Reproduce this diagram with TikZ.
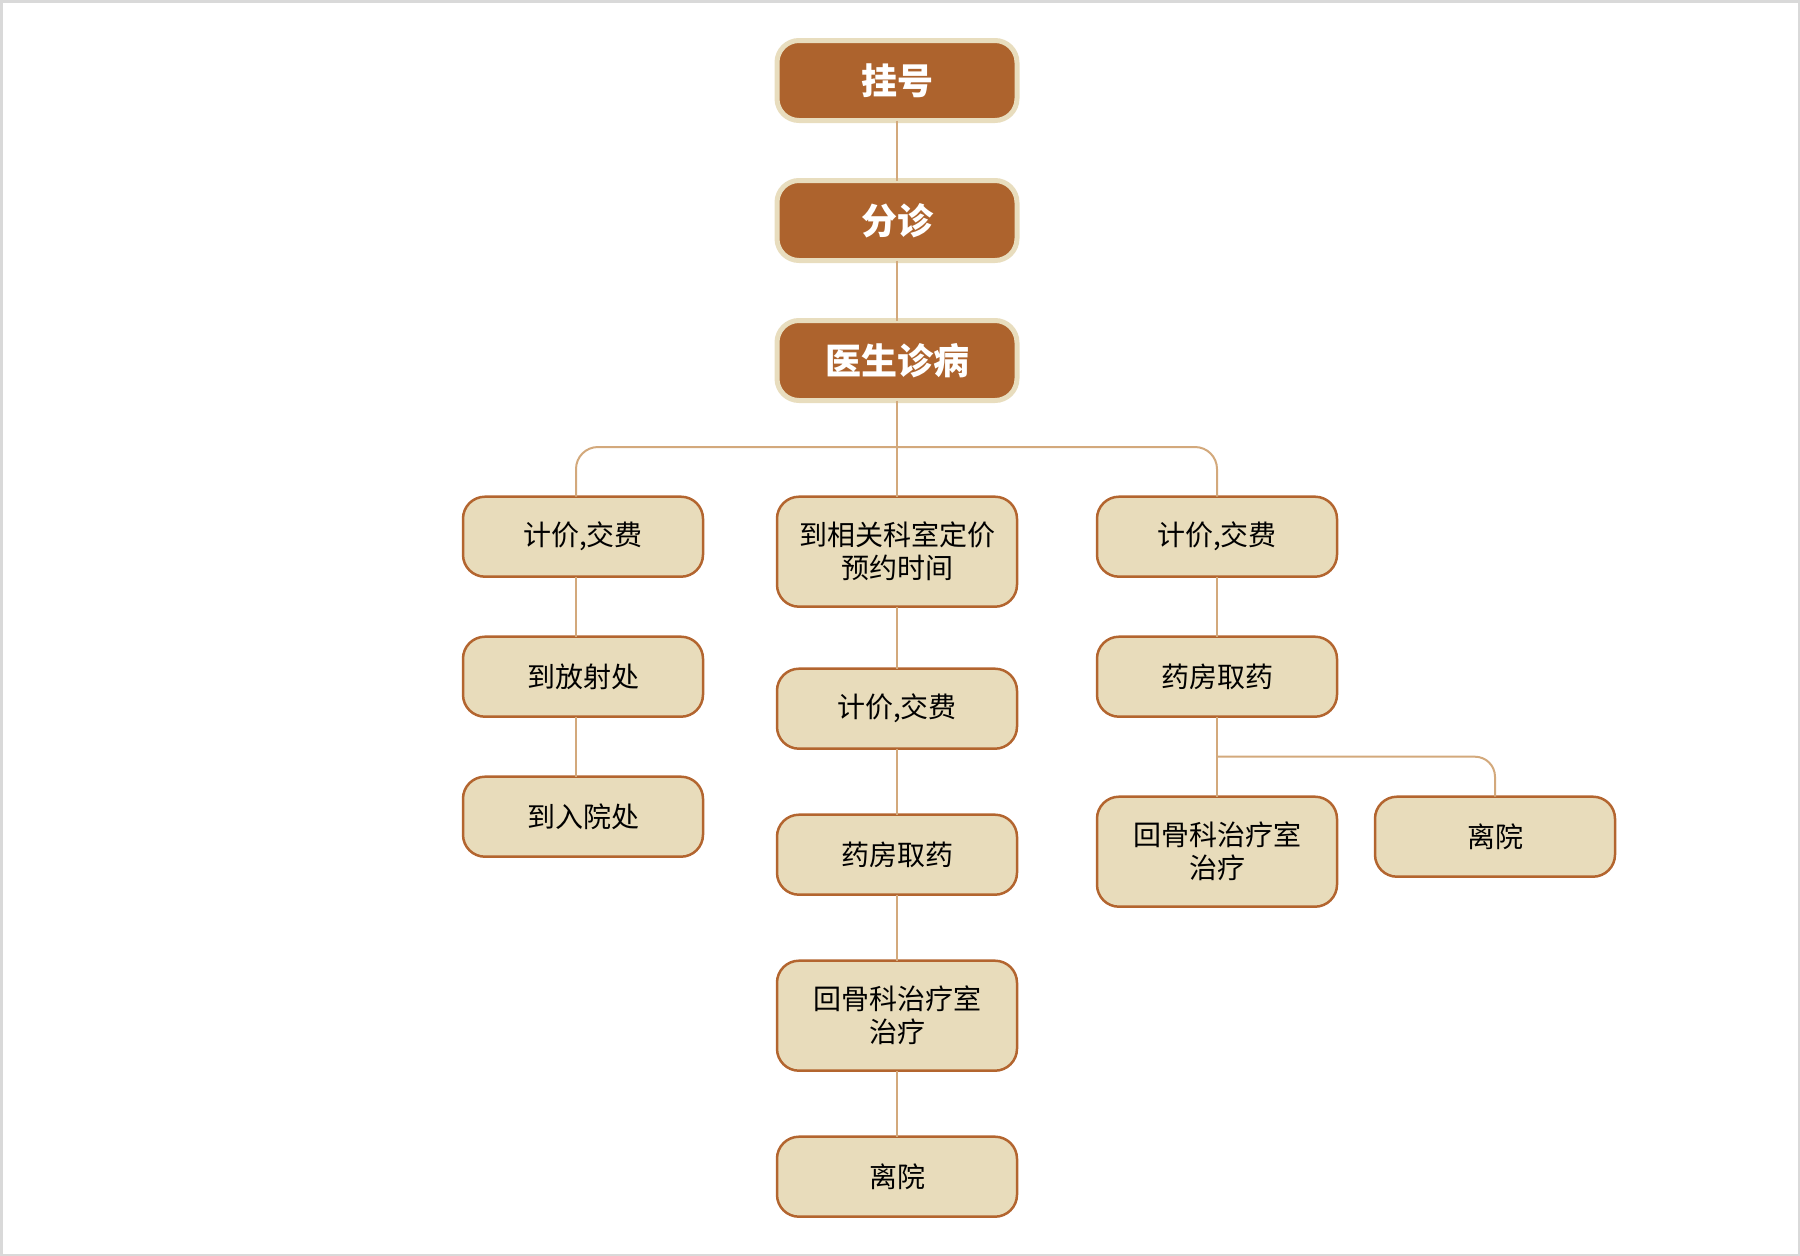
\documentclass[tikz,border=0pt]{standalone}
\usepackage{fontspec}
\setmainfont{Noto Sans CJK SC}
\usepackage{xcolor}
\usepackage{tikz}
\usetikzlibrary{positioning}
\definecolor{brownfill}{HTML}{AD632D}
\definecolor{creamfill}{HTML}{E8DCBB}
\definecolor{creamline}{HTML}{E8DDBE}
\definecolor{boxline}{HTML}{B3652F}
\definecolor{linkline}{HTML}{D3A97C}
\definecolor{frameline}{HTML}{D9D9D9}
\tikzset{every picture/.style={font issue=\fontsize{28}{33}},
         font issue/.style={execute at begin picture={#1\selectfont}}
        }

\begin{document}
\begin{tikzpicture}[x=1pt, y=1pt, node distance = 60pt,
  topbox/.style={draw=creamline, line width=5pt, fill=brownfill, text=white,
    rounded corners=22pt, minimum width=240pt, minimum height=80pt, outer sep=0pt,
    font=\fontsize{36}{40}\selectfont\bfseries},
  box/.style={draw=boxline, line width=2.5pt, fill=creamfill, text=black,
    rounded corners=22pt, minimum width=240pt, minimum height=80pt, outer sep=0pt,
    align=center},
  tallbox/.style={box, minimum height=110pt},
  link/.style={draw=linkline, line width=2pt}]
\useasboundingbox (0,0) rectangle (1800,-1256);
\draw[frameline, line width=2.5pt] (1.25,-1.25) rectangle (1798.75,-1254.75);

\node[topbox] (guahao) at (897,-80.5) {挂号};
\node[topbox, below = of guahao] (fenzhen) {分诊};
\node[topbox, below = of fenzhen] (zhenbing) {医生诊病};
\coordinate (bus) at (897,-447);

% left column
\node[box, anchor=north] (jiaofeiL) at (583,-496.7) {计价,交费};
\node[box, below = of jiaofeiL] (fangshe) {到放射处};
\node[box, below = of fangshe] (ruyuan) {到入院处};

% middle column
\node[tallbox, anchor=north] (yuyue) at (897,-496.7) {到相关科室定价\\预约时间};
\node[box, below = 62pt of yuyue] (jiaofeiM) {计价,交费};
\node[box, below = 66pt of jiaofeiM] (quyaoM) {药房取药};
\node[tallbox, below = 66pt of quyaoM] (zhiliaoM) {回骨科治疗室\\治疗};
\node[box, below = 66pt of zhiliaoM] (liyuanM) {离院};

% right column
\node[box, anchor=north] (jiaofeiR) at (1217,-496.7) {计价,交费};
\node[box, below = of jiaofeiR] (quyaoR) {药房取药};
\node[tallbox, below = 80pt of quyaoR] (zhiliaoR) {回骨科治疗室\\治疗};
\node[box, anchor=north west] (liyuanR) at ([xshift=38pt]zhiliaoR.north east) {离院};
\coordinate (fork) at (1217,-756.7);

\draw[link] (guahao) -- (fenzhen);
\draw[link] (fenzhen) -- (zhenbing);
\draw[link] (zhenbing) -- (yuyue);
\draw[link, rounded corners=22pt] ([xshift=-7pt]jiaofeiL.north) |- (bus) -| (jiaofeiR.north);
\draw[link] ([xshift=-7pt]jiaofeiL.south) -- ([xshift=-7pt]fangshe.north);
\draw[link] ([xshift=-7pt]fangshe.south) -- ([xshift=-7pt]ruyuan.north);
\draw[link] (yuyue) -- (jiaofeiM);
\draw[link] (jiaofeiM) -- (quyaoM);
\draw[link] (quyaoM) -- (zhiliaoM);
\draw[link] (zhiliaoM) -- (liyuanM);
\draw[link] (jiaofeiR) -- (quyaoR);
\draw[link] (quyaoR) -- (zhiliaoR);
\draw[link, rounded corners=20pt] (fork) -| (liyuanR.north);
\end{tikzpicture}
\end{document}
